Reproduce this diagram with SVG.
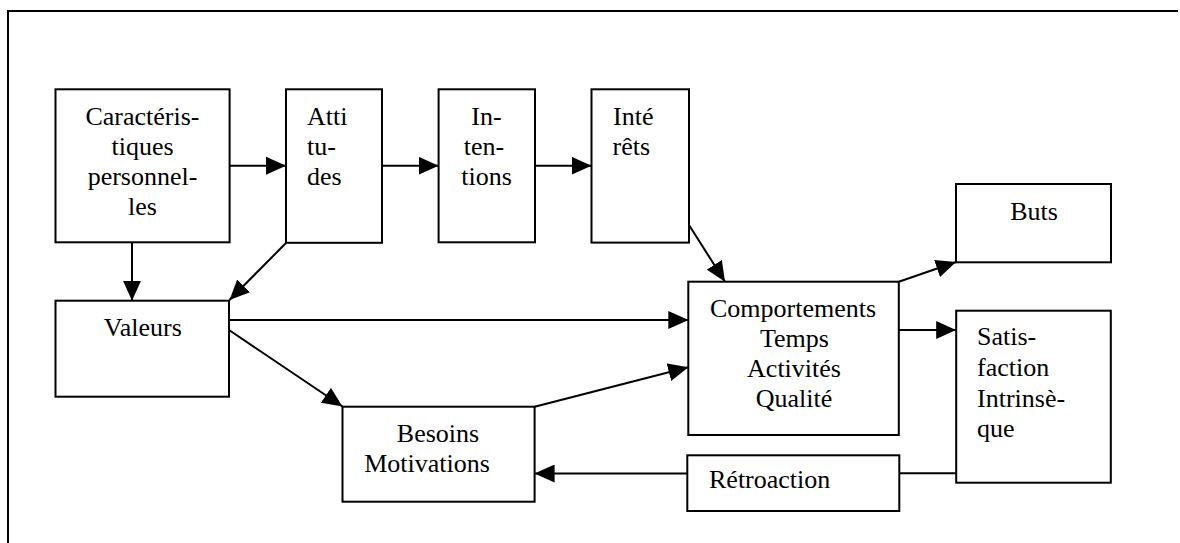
<svg xmlns="http://www.w3.org/2000/svg" width="1180" height="543" viewBox="0 0 1180 543">
<defs>
<marker id="arr" markerUnits="userSpaceOnUse" markerWidth="20" markerHeight="18" refX="20" refY="9" orient="auto">
<path d="M0,0 L20,9 L0,18 z" fill="#000"/>
</marker>
<style>
.box{fill:#fff;stroke:#000;stroke-width:2}
.t{font-family:"Liberation Serif","Times New Roman",serif;font-size:26px;fill:#000}
.c{text-anchor:middle}
.ln{fill:none;stroke:#000;stroke-width:2}
.a{marker-end:url(#arr)}
</style>
</defs>
<rect width="1180" height="543" fill="#fff"/>
<g id="frame">
<path class="ln" d="M8,543 L8,11 L1178,11"/>
</g>
<g id="connectors">
<line class="ln a" x1="229.6" y1="165.7" x2="286" y2="165.7"/>
<line class="ln a" x1="382" y1="165.7" x2="438.6" y2="165.7"/>
<line class="ln a" x1="535" y1="165.7" x2="591.5" y2="165.7"/>
<line class="ln a" x1="132" y1="242.3" x2="132" y2="300.7"/>
<line class="ln a" x1="286" y1="243" x2="229.5" y2="300"/>
<line class="ln a" x1="689" y1="225" x2="725" y2="281.7"/>
<line class="ln a" x1="229" y1="320" x2="688.3" y2="320"/>
<line class="ln a" x1="229" y1="330" x2="342.5" y2="406.5"/>
<line class="ln a" x1="534.6" y1="406.7" x2="688.3" y2="367.3"/>
<line class="ln a" x1="898.8" y1="281.7" x2="956" y2="262"/>
<line class="ln a" x1="898.8" y1="330" x2="956.2" y2="330"/>
<line class="ln" x1="956.2" y1="473.3" x2="899.3" y2="473.3"/>
<line class="ln a" x1="687.3" y1="473.5" x2="534.6" y2="473.5"/>
</g>
<g id="caracteristiques">
<rect class="box" x="55.5" y="89.3" width="174.1" height="153"/>
<text class="t c" x="142.5" y="125">Caractéris-</text>
<text class="t c" x="142.5" y="155">tiques</text>
<text class="t c" x="142.5" y="185">personnel-</text>
<text class="t c" x="142.5" y="215">les</text>
</g>
<g id="attitudes">
<rect class="box" x="286" y="89.3" width="96" height="153.5"/>
<text class="t" x="307" y="125">Atti</text>
<text class="t" x="307" y="155">tu-</text>
<text class="t" x="307" y="185">des</text>
</g>
<g id="intentions">
<rect class="box" x="438.6" y="89.3" width="96.4" height="153"/>
<text class="t c" x="486.5" y="125">In-</text>
<text class="t c" x="484" y="155">ten-</text>
<text class="t c" x="486.5" y="185">tions</text>
</g>
<g id="interets">
<rect class="box" x="591.5" y="89.3" width="97.5" height="153.3"/>
<text class="t" x="613" y="125">Inté</text>
<text class="t" x="612.5" y="155">rêts</text>
</g>
<g id="buts">
<rect class="box" x="956" y="184" width="155" height="78.3"/>
<text class="t c" x="1034" y="220">Buts</text>
</g>
<g id="valeurs">
<rect class="box" x="55.5" y="300.7" width="173.5" height="96"/>
<text class="t c" x="142.8" y="336">Valeurs</text>
</g>
<g id="besoins">
<rect class="box" x="342.5" y="406.7" width="192.1" height="95"/>
<text class="t c" x="438" y="441.7">Besoins</text>
<text class="t c" x="427" y="471.7">Motivations</text>
</g>
<g id="comportements">
<rect class="box" x="688.3" y="281.7" width="210.5" height="153.3"/>
<text class="t c" x="793" y="316.7">Comportements</text>
<text class="t c" x="794.5" y="347.3">Temps</text>
<text class="t c" x="794" y="377.3">Activités</text>
<text class="t c" x="794" y="407.3">Qualité</text>
</g>
<g id="satisfaction">
<rect class="box" x="956.2" y="310.7" width="154.6" height="172"/>
<text class="t" x="977" y="345">Satis-</text>
<text class="t" x="977" y="375.7">faction</text>
<text class="t" x="977" y="406.7">Intrinsè-</text>
<text class="t" x="977" y="436.7">que</text>
</g>
<g id="retroaction">
<rect class="box" x="687.3" y="455.3" width="212" height="55.7"/>
<text class="t" x="709" y="488.3">Rétroaction</text>
</g>
</svg>
